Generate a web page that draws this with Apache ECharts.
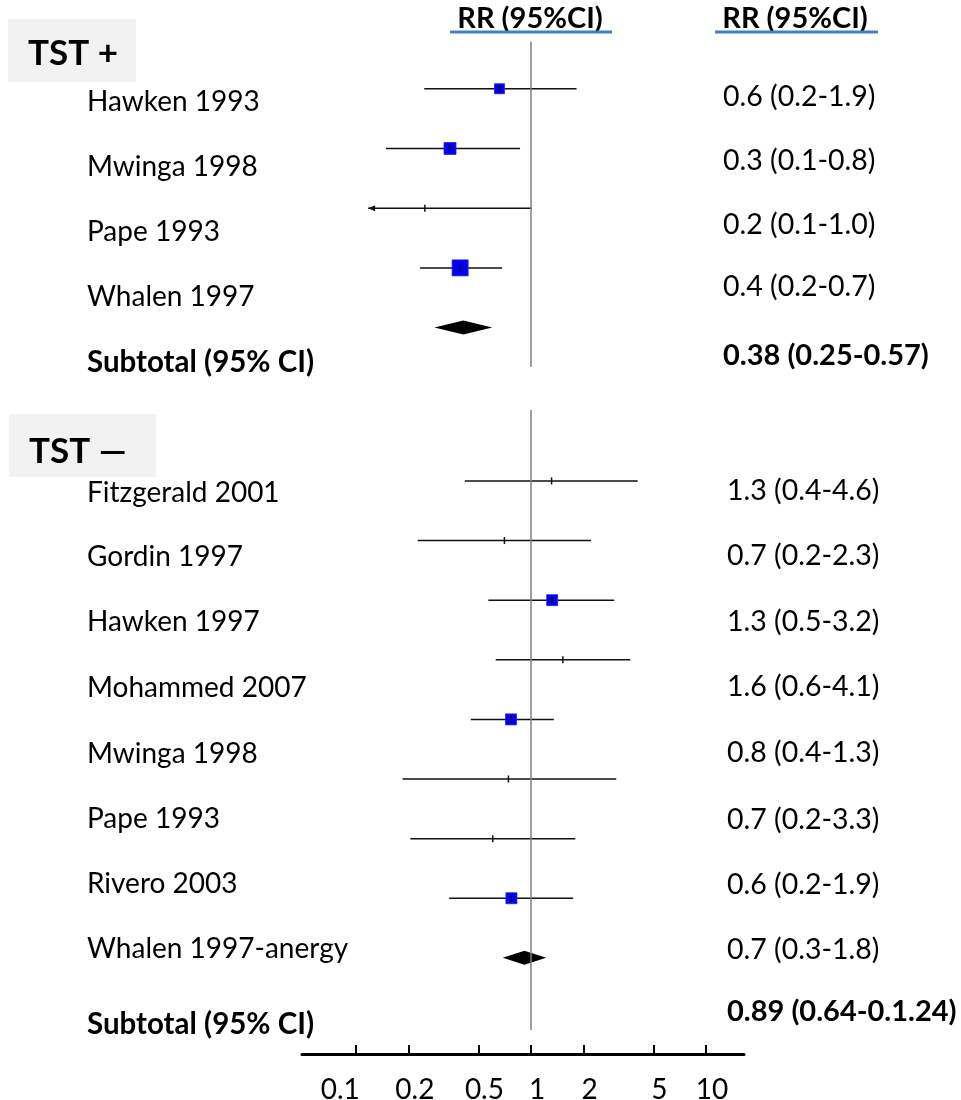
<!DOCTYPE html>
<html>
<head>
<meta charset="utf-8">
<script src="https://cdn.jsdelivr.net/npm/echarts@6/dist/echarts.min.js"></script>
<style>
html,body{margin:0;padding:0;background:#fff;}
#chart{width:961px;height:1100px;}
</style>
</head>
<body>
<div id="chart"></div>
<script>
// ---------------- DATA ----------------
const tickValues = [0.1, 0.2, 0.5, 1, 2, 5, 10];
const groupTitles = ['TST +', 'TST \u2014'];
const headerLabel = 'RR (95%CI)';
const subtotalLabel = 'Subtotal (95% CI)';

// TST + group
const posStudies = ['Hawken 1993', 'Mwinga 1998', 'Pape 1993', 'Whalen 1997'];
const posEst  = [0.66, 0.344, 0.247, 0.393];
const posLow  = [0.245, 0.148, 0.117, 0.232];
const posHigh = [1.82, 0.865, 1.01, 0.683];
const posWeight = [6.3, 9.0, 0, 16.0];      // relative study weight (0 = no box drawn)
const posTruncLow = [0, 0, 1, 0];           // lower CI truncated (arrow)
const posRR = ['0.6 (0.2-1.9)', '0.3 (0.1-0.8)', '0.2 (0.1-1.0)', '0.4 (0.2-0.7)'];
const posSubtotal = [0.41, 0.28, 0.60];     // est, low, high
const posSubtotalRR = '0.38 (0.25-0.57)';

// TST - group
const negStudies = ['Fitzgerald 2001', 'Gordin 1997', 'Hawken 1997', 'Mohammed 2007',
                    'Mwinga 1998', 'Pape 1993', 'Rivero 2003', 'Whalen 1997-anergy'];
const negEst  = [1.31, 0.704, 1.32, 1.52, 0.768, 0.742, 0.604, 0.772];
const negLow  = [0.418, 0.225, 0.570, 0.628, 0.452, 0.184, 0.204, 0.340];
const negHigh = [4.07, 2.20, 2.99, 3.69, 1.35, 3.07, 1.79, 1.74];
const negWeight = [0, 0, 7.6, 0, 7.6, 0, 0, 7.6];
const negTruncLow = [0, 0, 0, 0, 0, 0, 0, 0];
const negRR = ['1.3 (0.4-4.6)', '0.7 (0.2-2.3)', '1.3 (0.5-3.2)', '1.6 (0.6-4.1)',
               '0.8 (0.4-1.3)', '0.7 (0.2-3.3)', '0.6 (0.2-1.9)', '0.7 (0.3-1.8)'];
const negSubtotal = [0.916, 0.689, 1.22];
const negSubtotalRR = '0.89 (0.64-0.1.24)';

// ---------------- BUILD ----------------
function buildRows(est, low, high, weight, trunc, sub) {
  const rows = est.map((e, i) => [e, i, low[i], high[i], weight[i], 0, trunc[i]]);
  rows.push([sub[0], est.length, sub[1], sub[2], 0, 1, 0]);
  return rows;
}
const posRows = buildRows(posEst, posLow, posHigh, posWeight, posTruncLow, posSubtotal);
const negRows = buildRows(negEst, negLow, negHigh, negWeight, negTruncLow, negSubtotal);

const INK = '#111';
function renderForest(params, api) {
  const est = api.value(0), row = api.value(1), lo = api.value(2), hi = api.value(3);
  const w = api.value(4), kind = api.value(5), trunc = api.value(6);
  const pE = api.coord([est, row]);
  const pL = api.coord([lo, row]);
  const pH = api.coord([hi, row]);
  const y = pE[1];
  const children = [];
  if (kind === 1) {
    const h = 7;
    children.push({
      type: 'polygon',
      shape: { points: [[pL[0], y], [pE[0], y - h], [pH[0], y], [pE[0], y + h]] },
      style: { fill: '#000' }
    });
  } else {
    children.push({
      type: 'line',
      shape: { x1: pL[0], y1: y, x2: pH[0], y2: y },
      style: { stroke: INK, lineWidth: 1.5 }
    });
    if (trunc) {
      children.push({
        type: 'polygon',
        shape: { points: [[pL[0], y], [pL[0] + 7, y - 3], [pL[0] + 7, y + 3]] },
        style: { fill: INK }
      });
    }
    if (w > 0) {
      const s = 4 * Math.sqrt(w);
      children.push({
        type: 'rect',
        shape: { x: pE[0] - s / 2, y: y - s / 2, width: s, height: s },
        style: { fill: '#0000f2', stroke: '#2a2ad0', lineWidth: 0.8 }
      });
    }
    children.push({
      type: 'line',
      shape: { x1: pE[0], y1: y - 3.5, x2: pE[0], y2: y + 3.5 },
      style: { stroke: INK, lineWidth: 1.5 }
    });
  }
  return { type: 'group', children: children };
}

const refLine = {
  silent: true,
  symbol: 'none',
  label: { show: false },
  lineStyle: { color: '#7f7f7f', width: 1.5, type: 'solid' },
  data: [{ xAxis: 1 }]
};

const FONT = 'Lato';
const graphics = [];
function addText(txt, x, y, size, bold, align) {
  graphics.push({
    type: 'text', x: x, y: y, silent: true,
    style: {
      text: txt, fill: '#000',
      font: (bold ? 'bold ' : '') + size + 'px ' + FONT,
      align: align || 'left', verticalAlign: 'middle'
    }
  });
}
// group title boxes
graphics.push({ type: 'rect', shape: { x: 8, y: 19, width: 128, height: 63 }, style: { fill: '#f2f2f2' }, silent: true });
graphics.push({ type: 'rect', shape: { x: 9, y: 414, width: 147, height: 63 }, style: { fill: '#f2f2f2' }, silent: true });
addText(groupTitles[0], 28, 54, 35, true);
addText(groupTitles[1], 29, 452, 35, true);
// headers
addText(headerLabel, 530, 19, 29, true, 'center');
addText(headerLabel, 795, 19, 29, true, 'center');
graphics.push({ type: 'line', shape: { x1: 450, y1: 32, x2: 612, y2: 32 }, style: { stroke: '#4a7ebb', lineWidth: 3 }, silent: true });
graphics.push({ type: 'line', shape: { x1: 715, y1: 32, x2: 878, y2: 32 }, style: { stroke: '#4a7ebb', lineWidth: 3 }, silent: true });

// left labels
const posLabelY = [102, 167, 232, 297];
const negLabelY = [493, 557, 622, 688, 754, 819, 884, 949];
posStudies.forEach((s, i) => addText(s, 87, posLabelY[i], 28, false));
addText(subtotalLabel, 87, 362, 29.5, true);
negStudies.forEach((s, i) => addText(s, 87, negLabelY[i], 28, false));
addText(subtotalLabel, 87, 1024, 29.5, true);

// right values
const posRRY = [97, 161, 225, 287];
const negRRY = [491, 556, 622, 687, 753, 820, 885, 950];
posRR.forEach((s, i) => addText(s, 723, posRRY[i], 28.5, false));
addText(posSubtotalRR, 723, 356, 29, true);
negRR.forEach((s, i) => addText(s, 727, negRRY[i], 28.5, false));
addText(negSubtotalRR, 727, 1012, 29, true);

const X_MIN = 0.049, X_MAX = 16.5;

const option = {
  backgroundColor: '#fff',
  animation: false,
  grid: [
    { left: 302, width: 442, top: 41.6, height: 325.4, outerBoundsMode: 'none', containLabel: false },
    { left: 302, width: 442, top: 410, height: 620, outerBoundsMode: 'none', containLabel: false }
  ],
  xAxis: [
    { gridIndex: 0, type: 'log', logBase: 10, min: X_MIN, max: X_MAX, show: false },
    {
      gridIndex: 1, type: 'log', logBase: 10, min: X_MIN, max: X_MAX,
      position: 'bottom', offset: 24,
      axisLine: { show: true, onZero: false, lineStyle: { color: '#000', width: 3 } },
      axisTick: { show: true, inside: true, length: 9, lineStyle: { color: '#000', width: 2 }, customValues: tickValues },
      axisLabel: {
        show: true, customValues: tickValues,
        formatter: v => (v === 0.1 ? '{l|' + v + '}' : '{r|' + v + '}'),
        rich: {
          l: { padding: [0, 32, 0, 0], fontSize: 28, fontFamily: FONT, color: '#000' },
          r: { padding: [0, 0, 0, 12], fontSize: 28, fontFamily: FONT, color: '#000' }
        },
        color: '#000', fontSize: 28, fontFamily: FONT, margin: 22
      },
      splitLine: { show: false },
      minorTick: { show: false }
    }
  ],
  yAxis: [
    { gridIndex: 0, type: 'value', inverse: true, min: -0.79, max: 4.66, show: false },
    { gridIndex: 1, type: 'value', inverse: true, min: -1.19, max: 9.21, show: false }
  ],
  series: [
    {
      type: 'custom', xAxisIndex: 0, yAxisIndex: 0, clip: false,
      renderItem: renderForest, data: posRows,
      encode: { x: 0, y: 1 }, markLine: refLine, z: 3
    },
    {
      type: 'custom', xAxisIndex: 1, yAxisIndex: 1, clip: false,
      renderItem: renderForest, data: negRows,
      encode: { x: 0, y: 1 }, markLine: refLine, z: 3
    }
  ],
  graphic: graphics
};

const chart = echarts.init(document.getElementById('chart'), null, { renderer: 'canvas' });
chart.setOption(option);
</script>
</body>
</html>
